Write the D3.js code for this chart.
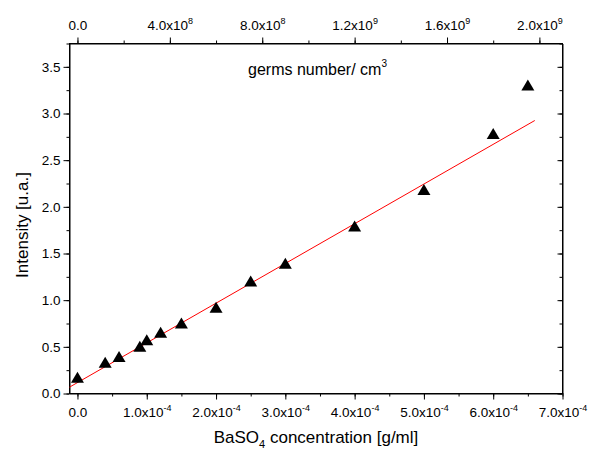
<!DOCTYPE html>
<html>
<head>
<meta charset="utf-8">
<script src="https://cdn.jsdelivr.net/npm/d3@7"></script>
<style>
  html, body { margin: 0; padding: 0; background: #fff; }
  svg { display: block; font-family: "Liberation Sans", Arial, sans-serif; }
  .tick text { font-size: 13.5px; fill: #000; }
</style>
</head>
<body>
<svg id="chart" width="594" height="455"></svg>
<script>
// BaSO4 concentration (g/ml) and measured intensity (u.a.)
const concentration = [0, 0.4e-4, 0.6e-4, 0.9e-4, 1.0e-4, 1.2e-4, 1.5e-4, 2.0e-4, 2.5e-4, 3.0e-4, 4.0e-4, 5.0e-4, 6.0e-4, 6.5e-4];
const intensity     = [0.17, 0.33, 0.39, 0.50, 0.57, 0.65, 0.75, 0.92, 1.20, 1.39, 1.79, 2.18, 2.78, 3.30];

// Linear fit, end points
const fitX = [-0.115e-4, 6.6e-4];
const fitY = [0.068, 2.925];

// Tick values / labels
const bottomTicks = [0, 1e-4, 2e-4, 3e-4, 4e-4, 5e-4, 6e-4, 7e-4];
const bottomMantissa = ["0.0", "1.0", "2.0", "3.0", "4.0", "5.0", "6.0", "7.0"];
const bottomExp = ["", "-4", "-4", "-4", "-4", "-4", "-4", "-4"];
const topTicks = [0, 4e8, 8e8, 1.2e9, 1.6e9, 2.0e9];
const topMantissa = ["0.0", "4.0", "8.0", "1.2", "1.6", "2.0"];
const topExp = ["", "8", "8", "9", "9", "9"];
const leftTicks = [0, 0.5, 1.0, 1.5, 2.0, 2.5, 3.0, 3.5];

const svg = d3.select("#chart");
const L = 69.5, R = 562.5, T = 43.5, B = 393.5;

const x = d3.scaleLinear().domain([-0.115e-4, 7.0e-4]).range([L, R]);
const xTop = d3.scaleLinear().domain([-0.0345e9, 2.1e9]).range([L, R]);
const y = d3.scaleLinear().domain([0, 3.75]).range([B, T]);

function minorRange(a, b, step) {
  return d3.range(Math.ceil(a / step), Math.floor(b / step) + 1).map(i => +(i * step).toPrecision(6));
}

// Label text with a superscript exponent
function sciLabel(sel, mant, exp) {
  sel.each(function(d, i) {
    const t = d3.select(this).text(null);
    if (exp[i] === "") { t.append("tspan").text(mant[i]); return; }
    t.append("tspan").text(mant[i] + "x10");
    t.append("tspan").attr("font-size", "9px").attr("dy", "-6").text(exp[i]);
  });
}

// Bottom axis: minor then major
svg.append("g").attr("transform", `translate(0,${B})`)
  .call(d3.axisBottom(x).tickValues(minorRange(0, 7e-4, 0.5e-4)).tickSize(3).tickFormat(""))
  .call(g => g.select(".domain").remove());
const gb = svg.append("g").attr("transform", `translate(0,${B})`)
  .call(d3.axisBottom(x).tickValues(bottomTicks).tickSizeInner(6).tickSizeOuter(0).tickPadding(8));
gb.selectAll(".tick text").call(sciLabel, bottomMantissa, bottomExp);

// Top axis
svg.append("g").attr("transform", `translate(0,${T})`)
  .call(d3.axisTop(xTop).tickValues(minorRange(0, 2.1e9, 2e8)).tickSize(3).tickFormat(""))
  .call(g => g.select(".domain").remove());
const gt = svg.append("g").attr("transform", `translate(0,${T})`)
  .call(d3.axisTop(xTop).tickValues(topTicks).tickSizeInner(6).tickSizeOuter(0).tickPadding(8));
gt.selectAll(".tick text").call(sciLabel, topMantissa, topExp);

// Left axis
svg.append("g").attr("transform", `translate(${L},0)`)
  .call(d3.axisLeft(y).tickValues(minorRange(0, 3.75, 0.25)).tickSize(3).tickFormat(""))
  .call(g => g.select(".domain").remove());
svg.append("g").attr("transform", `translate(${L},0)`)
  .call(d3.axisLeft(y).tickValues(leftTicks).tickSizeInner(6).tickSizeOuter(0).tickPadding(3).tickFormat(d3.format(".1f")));

// Right axis: ticks pointing inward, no labels
svg.append("g").attr("transform", `translate(${R},0)`)
  .call(d3.axisRight(y).tickValues(minorRange(0, 3.75, 0.25)).tickSize(-3).tickFormat(""))
  .call(g => g.select(".domain").remove());
svg.append("g").attr("transform", `translate(${R},0)`)
  .call(d3.axisRight(y).tickValues(leftTicks).tickSizeInner(-5).tickSizeOuter(0).tickFormat(""));

svg.selectAll(".tick line").attr("stroke", "#000");
svg.selectAll(".domain").attr("stroke", "#000");

// Frame
svg.append("rect").attr("x", L).attr("y", T).attr("width", R - L).attr("height", B - T)
  .attr("fill", "none").attr("stroke", "#000").attr("stroke-width", 1);

// Fit line
const fitData = fitX.map((v, i) => [v, fitY[i]]);
svg.append("path").datum(fitData)
  .attr("fill", "none").attr("stroke", "#ff0000").attr("stroke-width", 1)
  .attr("d", d3.line().x(d => x(d[0])).y(d => y(d[1])));

// Data markers (filled triangles)
const tri = "M0,-6L6.5,5L-6.5,5Z";
svg.append("g").selectAll("path").data(concentration)
  .join("path")
  .attr("d", tri)
  .attr("fill", "#000")
  .attr("transform", (d, i) => `translate(${x(d)},${y(intensity[i])})`);

// Axis titles
svg.append("text").attr("x", 316).attr("y", 443).attr("text-anchor", "middle")
  .attr("font-size", "17px").attr("fill", "#000")
  .call(t => {
    t.append("tspan").text("BaSO");
    t.append("tspan").attr("font-size", "11px").attr("dy", "5").text("4");
    t.append("tspan").attr("dy", "-5").text(" concentration [g/ml]");
  });

svg.append("text").attr("transform", "translate(28,225) rotate(-90)").attr("text-anchor", "middle")
  .attr("font-size", "17px").attr("fill", "#000").text("Intensity [u.a.]");

svg.append("text").attr("x", 248).attr("y", 75).attr("font-size", "16px").attr("fill", "#000")
  .call(t => {
    t.append("tspan").text("germs number/ cm");
    t.append("tspan").attr("font-size", "10px").attr("dy", "-8").text("3");
  });
</script>
</body>
</html>
